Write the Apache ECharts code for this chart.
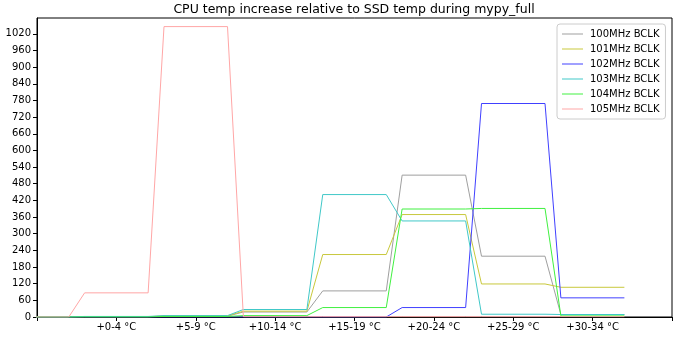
<!DOCTYPE html>
<html>
<head>
<meta charset="utf-8">
<script src="https://cdn.jsdelivr.net/npm/echarts@6/dist/echarts.min.js"></script>
<style>
  html, body { margin: 0; padding: 0; background: #fff; }
  #chart { width: 675px; height: 337px; }
</style>
</head>
<body>
<div id="chart"></div>
<script>
// Temperature buckets shown on the x axis (bucket i is centred at x = 5*i; bucket 0 sits at the left edge)
const tickLabels = ['+0-4 °C', '+5-9 °C', '+10-14 °C', '+15-19 °C', '+20-24 °C', '+25-29 °C', '+30-34 °C'];

// CPU temperature increase per bucket, one array per BCLK setting (8 buckets)
const bclk100 = [0, 1, 3, 18, 94, 511, 219, 9];
const bclk101 = [0, 1, 4, 21, 225, 369, 119, 107];
const bclk102 = [0, 0, 0, 0, 0, 34, 769, 69];
const bclk103 = [0, 2, 5, 27, 441, 346, 10, 9];
const bclk104 = [0, 0, 2, 5, 34, 389, 391, 4];
const bclk105 = [0, 87, 1046, 1, 1, 1, 1, 1];

const seriesNames = ['100MHz BCLK', '101MHz BCLK', '102MHz BCLK', '103MHz BCLK', '104MHz BCLK', '105MHz BCLK'];
const seriesValues = [bclk100, bclk101, bclk102, bclk103, bclk104, bclk105];
const seriesColors = ['#9f9f9f', '#c8c83c', '#4040ff', '#40c8c8', '#40f040', '#ffa6a6'];

// Each bucket is drawn as a flat run spanning its centre +/- 2
function toSteps(values) {
  const pts = [];
  values.forEach((v, i) => {
    pts.push([5 * i - 2, v]);
    pts.push([5 * i + 2, v]);
  });
  return pts;
}

const chart = echarts.init(document.getElementById('chart'), null, { renderer: 'canvas' });

const font = 'DejaVu Sans';

chart.setOption({
  animation: false,
  backgroundColor: '#ffffff',
  title: {
    text: 'CPU temp increase relative to SSD temp during mypy_full',
    left: 349,
    textAlign: 'center',
    top: -2,
    textStyle: { fontFamily: font, fontSize: 12.5, fontWeight: 'normal', color: '#000' }
  },
  legend: {
    orient: 'vertical',
    left: 557,
    top: 24,
    padding: [4, 6, 4, 5],
    itemGap: 3,
    itemWidth: 21,
    itemHeight: 1,
    icon: 'rect',
    backgroundColor: 'rgba(255,255,255,0.85)',
    borderColor: '#cccccc',
    borderWidth: 1,
    borderRadius: 3,
    textStyle: { fontFamily: font, fontSize: 10, color: '#000', lineHeight: 12, padding: [0, 0, 0, 2] },
    data: seriesNames
  },
  grid: {
    left: 37, right: 3, top: 18, bottom: 20,
    show: true, borderColor: '#000', borderWidth: 1
  },
  xAxis: {
    type: 'value',
    min: 0,
    max: 40,
    interval: 5,
    splitLine: { show: false },
    axisLine: { lineStyle: { color: '#000', width: 1 } },
    axisTick: { show: true, inside: false, length: 4, lineStyle: { color: '#000' } },
    axisLabel: {
      margin: 5,
      fontFamily: font, fontSize: 10, color: '#000',
      formatter: function (v) {
        const idx = Math.round(v / 5) - 1;
        return (idx >= 0 && idx < tickLabels.length) ? tickLabels[idx] : '';
      }
    }
  },
  yAxis: {
    type: 'value',
    min: 0,
    max: 1077,
    interval: 60,
    splitLine: { show: false },
    axisLine: { show: true, lineStyle: { color: '#000', width: 1 } },
    axisTick: { show: true, inside: false, length: 4, lineStyle: { color: '#000' } },
    axisLabel: {
      margin: 6, fontFamily: font, fontSize: 10, color: '#000',
      showMaxLabel: false,
      formatter: function (v) { return v % 60 === 0 ? String(v) : ''; }
    }
  },
  series: seriesNames.map((name, k) => ({
    name: name,
    type: 'line',
    data: toSteps(seriesValues[k]),
    showSymbol: false,
    symbol: 'none',
    clip: true,
    color: seriesColors[k],
    lineStyle: { width: 1, color: seriesColors[k] },
    emphasis: { disabled: true },
    z: 2 + k
  }))
});
</script>
</body>
</html>
